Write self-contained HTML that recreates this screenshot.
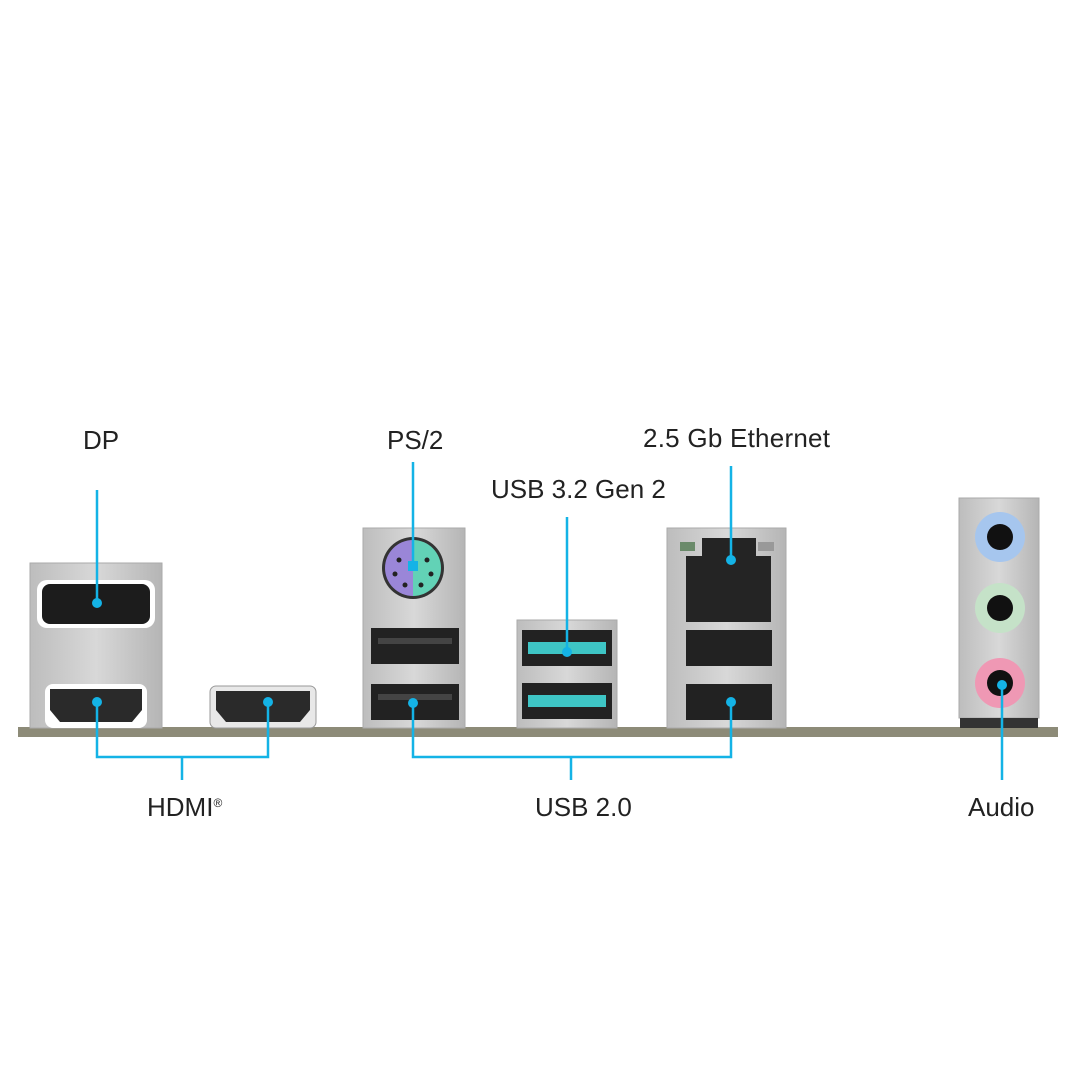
<!DOCTYPE html>
<html><head><meta charset="utf-8"><style>
html,body{margin:0;padding:0;background:#fff;width:1080px;height:1080px;overflow:hidden}
svg text{font-family:"Liberation Sans",sans-serif;font-size:26px;fill:#222}
</style></head><body>
<svg width="1080" height="1080" viewBox="0 0 1080 1080" xmlns="http://www.w3.org/2000/svg">
<defs>
<linearGradient id="m" x1="0" x2="1"><stop offset="0" stop-color="#bdbdbd"/><stop offset=".5" stop-color="#d8d8d8"/><stop offset="1" stop-color="#b5b5b5"/></linearGradient>
</defs>
<rect x="18" y="727" width="1040" height="10" fill="#8d8b78"/>
<rect x="30" y="563" width="132" height="165" fill="url(#m)" stroke="#aaa"/>
<rect x="37" y="580" width="118" height="48" rx="10" fill="#fff"/>
<rect x="42" y="584" width="108" height="40" rx="8" fill="#1c1c1c"/>
<rect x="45" y="684" width="102" height="44" rx="8" fill="#fff"/>
<path d="M50 689 H142 V710 L132 722 H60 L50 710 Z" fill="#2a2a2a"/>
<rect x="210" y="686" width="106" height="42" rx="6" fill="#e8e8e8" stroke="#999"/>
<path d="M216 691 H310 V710 L300 722 H226 L216 710 Z" fill="#2a2a2a"/>
<rect x="363" y="528" width="102" height="200" fill="url(#m)" stroke="#aaa"/>
<circle cx="413" cy="568" r="31" fill="#333"/>
<path d="M413 540 A28 28 0 0 0 413 596 Z" fill="#9a86d8"/>
<path d="M413 540 A28 28 0 0 1 413 596 Z" fill="#62d2b6"/>
<g fill="#222"><circle cx="399" cy="560" r="2.5"/><circle cx="427" cy="560" r="2.5"/><circle cx="395" cy="574" r="2.5"/><circle cx="431" cy="574" r="2.5"/><circle cx="405" cy="585" r="2.5"/><circle cx="421" cy="585" r="2.5"/></g>
<rect x="371" y="628" width="88" height="36" fill="#222"/>
<rect x="371" y="684" width="88" height="36" fill="#222"/>
<rect x="378" y="638" width="74" height="6" fill="#444"/>
<rect x="378" y="694" width="74" height="6" fill="#444"/>
<rect x="517" y="620" width="100" height="108" fill="url(#m)" stroke="#aaa"/>
<rect x="522" y="630" width="90" height="36" fill="#222"/>
<rect x="522" y="683" width="90" height="36" fill="#222"/>
<rect x="528" y="642" width="78" height="12" fill="#3ec5c5"/>
<rect x="528" y="695" width="78" height="12" fill="#3ec5c5"/>
<rect x="667" y="528" width="119" height="200" fill="url(#m)" stroke="#aaa"/>
<rect x="680" y="542" width="15" height="9" fill="#6a8a6a"/>
<rect x="758" y="542" width="16" height="9" fill="#999"/>
<path d="M686 556 H702 V538 H756 V556 H771 V622 H686 Z" fill="#242424"/>
<rect x="686" y="630" width="86" height="36" fill="#222"/>
<rect x="686" y="684" width="86" height="36" fill="#222"/>
<rect x="959" y="498" width="80" height="220" fill="url(#m)" stroke="#aaa"/>
<rect x="960" y="718" width="78" height="10" fill="#333"/>
<circle cx="1000" cy="537" r="25" fill="#a6c6ee"/><circle cx="1000" cy="537" r="13" fill="#111"/>
<circle cx="1000" cy="608" r="25" fill="#c5e2c8"/><circle cx="1000" cy="608" r="13" fill="#111"/>
<circle cx="1000" cy="683" r="25" fill="#ef98b4"/><circle cx="1000" cy="683" r="13" fill="#111"/>
<g stroke="#14b3e6" stroke-width="2.5" fill="none">
<path d="M97 490 V603"/>
<path d="M97 702 V757 H268 V702 M182 757 V780"/>
<path d="M413 462 V565"/>
<path d="M567 517 V652"/>
<path d="M731 466 V560"/>
<path d="M413 703 V757 H731 V702 M571 757 V780"/>
<path d="M1002 685 V780"/>
</g>
<g fill="#14b3e6">
<circle cx="97" cy="603" r="5"/><circle cx="97" cy="702" r="5"/><circle cx="268" cy="702" r="5"/>
<rect x="408" y="561" width="10" height="10"/><circle cx="567" cy="652" r="5"/><circle cx="731" cy="560" r="5"/>
<circle cx="413" cy="703" r="5"/><circle cx="731" cy="702" r="5"/><circle cx="1002" cy="685" r="5"/>
</g>
<text x="83" y="449">DP</text>
<text x="387" y="449">PS/2</text>
<text x="643" y="447" textLength="187">2.5 Gb Ethernet</text>
<text x="491" y="498">USB 3.2 Gen 2</text>
<text x="147" y="816">HDMI<tspan font-size="12" dy="-9">®</tspan></text>
<text x="535" y="816">USB 2.0</text>
<text x="968" y="816">Audio</text>
</svg>
</body></html>
